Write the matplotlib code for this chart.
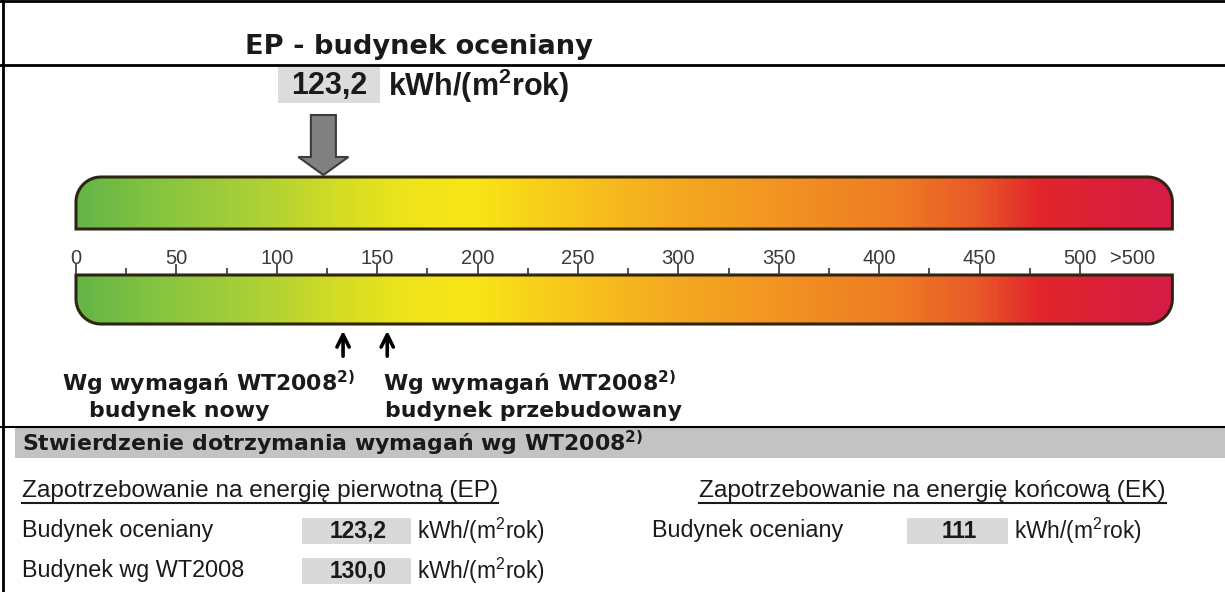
import numpy as np
import matplotlib.pyplot as plt
from matplotlib.colors import LinearSegmentedColormap
from matplotlib.patches import PathPatch, Rectangle, Polygon
from matplotlib.path import Path

# --- data read from the certificate ---
ep_value = 123.2        # EP - budynek oceniany [kWh/(m2rok)]
ep_wt2008 = 130.0       # EP wg WT2008
ek_value = 111          # EK - budynek oceniany
ref_marks = [133, 155]  # arrows: WT2008 budynek nowy / przebudowany
ref_titles = ['budynek nowy', 'budynek przebudowany']
scale_ticks = [0, 50, 100, 150, 200, 250, 300, 350, 400, 450, 500]
minor_ticks = [25, 75, 125, 175, 225, 275, 325, 375, 425, 475]
over_label = '>500'
over_pos = 526
scale_end = 546
grad_stops = [0, 40, 90, 130, 165, 200, 240, 290, 350, 410, 450, 480, 520, 546]
grad_colors = ['#63b547', '#86c440', '#acd136', '#d4dc25', '#efe51a', '#f9e416',
               '#f8c91c', '#f5ad20', '#f29422', '#ee7b24', '#e85828', '#e2262c',
               '#da1f3b', '#d61c48']

W, H = 1225, 592
PX = 2.008   # pixels per kWh on the scale
X0 = 76      # pixel where the scale starts
INK = '#1a1a1a'
OUTLINE = '#2e2414'
SANS = 'Liberation Sans'


def fmt(v):
    if isinstance(v, int):
        return str(v)
    return f'{v:.1f}'.replace('.', ',')


def bar_path(x0, x1, ytop, ybot, rx, ry, round_top):
    """Bar outline with two rounded corners (top or bottom)"""
    t = np.linspace(0, np.pi / 2, 20)
    if round_top:
        left = np.column_stack([x0 + rx - rx * np.cos(t), ytop + ry - ry * np.sin(t)])
        right = np.column_stack([x1 - rx + rx * np.sin(t), ytop + ry - ry * np.cos(t)])
        pts = np.vstack([[x0, ybot], left, right, [x1, ybot], [x0, ybot]])
    else:
        right = np.column_stack([x1 - rx + rx * np.cos(t), ybot - ry + ry * np.sin(t)])
        left = np.column_stack([x0 + rx - rx * np.sin(t), ybot - ry + ry * np.cos(t)])
        pts = np.vstack([[x0, ytop], [x1, ytop], right, left, [x0, ytop]])
    return Path(pts, closed=True)


fig = plt.figure(figsize=(12.25, 5.92), dpi=100)
fig.patch.set_facecolor('white')

# background axes in pixels for the form layout
bg = fig.add_axes([0, 0, 1, 1])
bg.set_xlim(0, W)
bg.set_ylim(H, 0)
bg.axis('off')

# scale axes: x in kWh/(m2rok), y in pixels
sc = fig.add_axes([0, 0, 1, 1])
sc.set_xlim(-X0 / PX, (W - X0) / PX)
sc.set_ylim(H, 0)
sc.axis('off')

# frame lines
bg.plot([0, W], [1, 1], color='black', lw=2)
bg.plot([3, 3], [0, H], color='black', lw=2)
bg.plot([0, W], [65, 65], color='black', lw=2)
bg.plot([0, W], [427, 427], color='black', lw=1.5)

# header
bg.text(245, 47, 'EP - budynek oceniany', fontsize=19.6, fontweight='bold',
        color=INK, ha='left', va='center')
bg.add_patch(Rectangle((278, 67), 102, 36, color='#dcdcdc', lw=0))
bg.text(329, 86, fmt(ep_value), family=SANS, fontsize=22, fontweight='bold',
        color=INK, ha='center', va='center')
bg.text(388, 86, r'kWh/(m$^{\mathregular{2}}$rok)', family=SANS, fontsize=22,
        fontweight='bold', color=INK, ha='left', va='center')

# gradient bars
cmap = LinearSegmentedColormap.from_list(
    'ep', [(s / scale_end, c) for s, c in zip(grad_stops, grad_colors)])
grad = np.linspace(0, scale_end, 800)[None, :]
rx, ry = 25 / PX, 25
for ytop, ybot, top in [(177, 229, True), (275, 324, False)]:
    patch = PathPatch(bar_path(0, scale_end, ytop, ybot, rx, ry, top),
                      facecolor='none', edgecolor=OUTLINE, lw=2.2, zorder=3)
    sc.add_patch(patch)
    im = sc.imshow(grad, extent=(0, scale_end, ybot, ytop), cmap=cmap,
                   vmin=0, vmax=scale_end, aspect='auto', interpolation='bilinear',
                   zorder=2)
    im.set_clip_path(patch)

# scale ticks and labels
sc.vlines(scale_ticks, 264, 275, color='#333333', lw=1.2, zorder=4)
sc.vlines(minor_ticks, 268, 275, color='#333333', lw=1.2, zorder=4)
for v in scale_ticks:
    sc.text(v, 258, str(v), family=SANS, fontsize=14.5, color='#3a3a3a',
            ha='center', va='center')
sc.text(over_pos, 258, over_label, family=SANS, fontsize=14.5, color='#3a3a3a',
        ha='center', va='center')

# grey arrow for the evaluated building
hs, hh = 12.5 / PX, 25 / PX
arrow = Polygon([(ep_value - hs, 115), (ep_value + hs, 115), (ep_value + hs, 157),
                 (ep_value + hh, 157), (ep_value, 175), (ep_value - hh, 157),
                 (ep_value - hs, 157)], closed=True, facecolor='#808080',
                edgecolor='#3c3c3c', lw=1.5, zorder=5)
sc.add_patch(arrow)

# WT2008 arrows
for v in ref_marks:
    sc.annotate('', xy=(v, 328), xytext=(v, 359),
                arrowprops=dict(arrowstyle='->', color='black', lw=2.6,
                                mutation_scale=22))

label_x = [(62, 89), (383, 385)]
for (x1, x2), title in zip(label_x, ref_titles):
    bg.text(x1, 383, r'Wg wymagań WT2008$^{\mathbf{2)}}$', fontsize=15.8,
            fontweight='bold', color=INK, ha='left', va='center')
    bg.text(x2, 411, title, fontsize=15.8, fontweight='bold', color=INK,
            ha='left', va='center')

# compliance band
bg.add_patch(Rectangle((15, 428), W - 15, 30, color='#c3c3c3', lw=0))
bg.text(22, 443, r'Stwierdzenie dotrzymania wymagań wg WT2008$^{\mathbf{2)}}$',
        fontsize=15.8, fontweight='bold', color=INK, ha='left', va='center')

# tables
headers = [(22, 'Zapotrzebowanie na energię pierwotną (EP)'),
           (699, 'Zapotrzebowanie na energię końcową (EK)')]
head_texts = []
for x, s in headers:
    head_texts.append(bg.text(x, 491, s, family=SANS, fontsize=17.6, color=INK,
                              ha='left', va='center'))

rows = [(22, 531, 'Budynek oceniany', ep_value, 302, 109),
        (22, 571, 'Budynek wg WT2008', ep_wt2008, 302, 109),
        (652, 531, 'Budynek oceniany', ek_value, 907, 101)]
for x, y, label, val, bx, bw in rows:
    bg.text(x, y, label, family=SANS, fontsize=16.8, color=INK, ha='left', va='center')
    bg.add_patch(Rectangle((bx, y - 13), bw, 26, color='#d9d9d9', lw=0))
    bg.text(bx + bw / 2 + 2, y, fmt(val), family=SANS, fontsize=16.4,
            fontweight='bold', color=INK, ha='center', va='center')
    bg.text(bx + bw + 6, y, r'kWh/(m$^{\mathregular{2}}$rok)', family=SANS,
            fontsize=16.4, color=INK, ha='left', va='center')

# underline the headers
fig.canvas.draw()
inv = bg.transData.inverted()
for t in head_texts:
    bb = t.get_window_extent()
    (xa, _), (xb, _) = inv.transform([(bb.x0, bb.y0), (bb.x1, bb.y0)])
    bg.plot([xa, xb], [503, 503], color=INK, lw=1.5)

fig.savefig('out.png', dpi=100)
